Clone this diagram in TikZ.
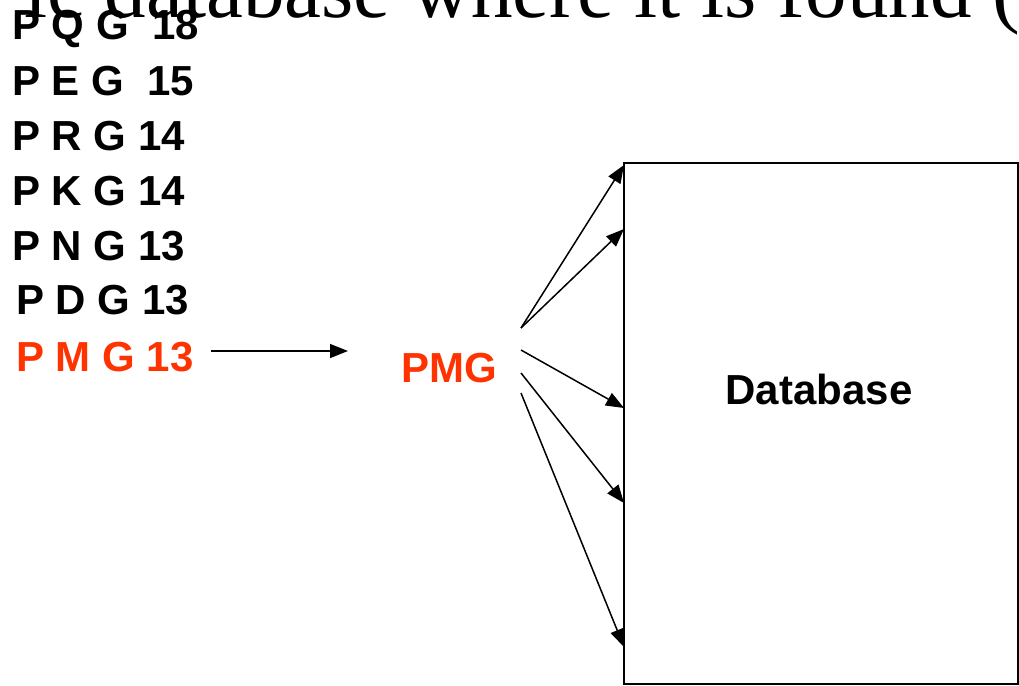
\documentclass[tikz,border=0pt]{standalone}
\usepackage{fontspec}
\setmainfont{Liberation Serif}
\setsansfont{Liberation Sans}
\usepackage{tikz}
\usetikzlibrary{arrows.meta}
\definecolor{keyred}{RGB}{255,51,0}
\tikzstyle{entry}=[anchor=base west,inner sep=0pt,font=\sffamily\bfseries\fontsize{42}{48}\selectfont]
\tikzstyle{edge} = [draw,line width=1.5pt,-{Triangle[length=18pt,width=14pt]}]
\tikzstyle{table}=[draw,line width=1.5pt,minimum width=394pt,minimum height=521pt,inner sep=0pt,outer sep=0pt]

\begin{document}
\begin{tikzpicture}[x=1pt,y=-1pt]
        \useasboundingbox (0,0) rectangle (1019,685);
        \clip (0,0) rectangle (1019,685);
        \node[anchor=base west,inner sep=0pt,font=\fontsize{83}{90}\selectfont] (head) at (24,18) {ic database where it is found (};
        \node[entry] (pqg) at (12,40) {P Q G \ 18};
        \node[entry] (peg) at (12,95) {P E G \ 15};
        \node[entry] (prg) at (12,150) {P R G 14};
        \node[entry] (pkg) at (12,205) {P K G 14};
        \node[entry] (png) at (12,260) {P N G 13};
        \node[entry] (pdg) at (16,314) {P D G 13};
        \node[entry,keyred] (pmg) at (16,371) {P M G 13};
        \node[entry,keyred] (key) at (401,382) {PMG};
        \node[table] (db) at (821,423.5) {};
        \node[entry,anchor=center] (dbname) at (819,389) {Database};
        %\tikzset{edge/.style = {->,>=latex'}}
        \coordinate (lookup) at (348,351);
        \coordinate (k1) at (521,328);
        \coordinate (k2) at (521,350);
        \coordinate (k3) at (521,373);
        \coordinate (k4) at (521,393);
        \coordinate (d1) at (db.west |- 0,165);
        \coordinate (d2) at (db.west |- 0,229);
        \coordinate (d3) at (db.west |- 0,408);
        \coordinate (d4) at (db.west |- 0,503);
        \coordinate (d5) at (db.west |- 0,647);
        \draw[edge,shorten <=17pt] (pmg.east |- lookup) to (lookup);
        \draw[edge] (k1) to (d1);
        \draw[edge] (k1) to (d2);
        \draw[edge] (k2) to (d3);
        \draw[edge] (k3) to (d4);
        \draw[edge] (k4) to (d5);
      \end{tikzpicture}
\end{document}
